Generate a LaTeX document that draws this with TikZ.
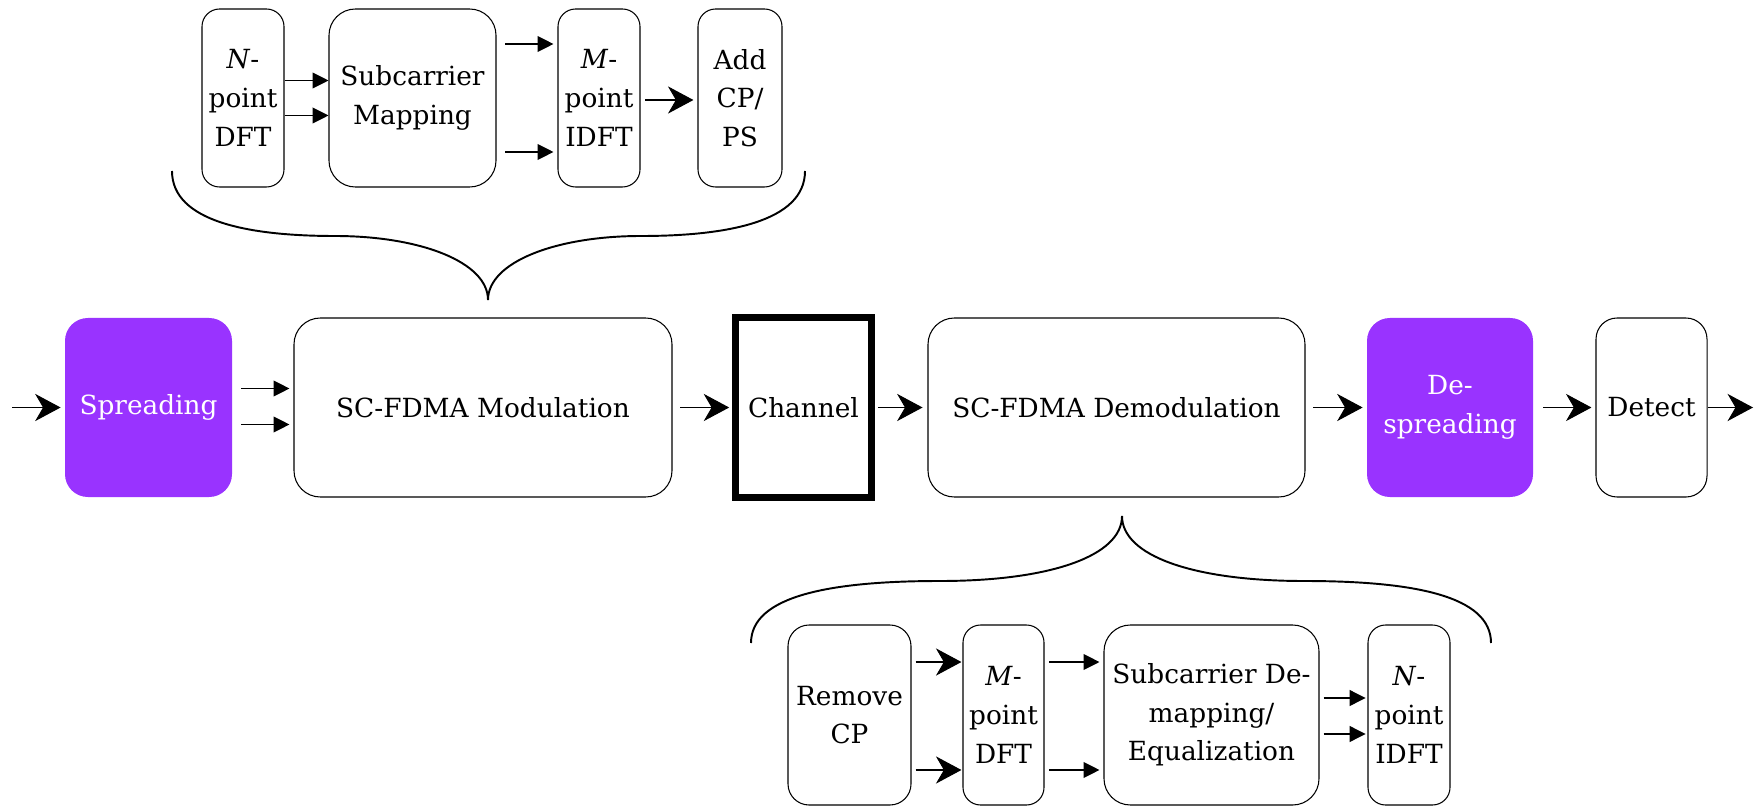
\documentclass[tikz,border=0pt]{standalone}
\usepackage{fontspec}
\setmainfont{DejaVu Serif}
\usetikzlibrary{arrows.meta}
\definecolor{spreadfill}{RGB}{153,51,255}
\begin{document}
\begin{tikzpicture}[x=0.02cm,y=-0.02cm,
  font=\fontsize{15}{22}\selectfont,
  wh/.style 2 args={minimum width=#1*0.02cm, minimum height=#2*0.02cm},
  blk/.style={draw, line width=0.6pt, inner sep=2pt, align=center, rounded corners=#1},
  blk/.default=10pt,
  purp/.style={fill=spreadfill, text=white, draw=none, inner sep=2pt, align=center, rounded corners=13pt},
  chanbox/.style={draw, line width=3.8pt, inner sep=2pt, align=center},
  thin/.style={line width=0.6pt, -{Triangle[length=9pt,width=9pt]}},
  bold/.style={line width=0.6pt, -{Stealth[length=14.5pt,width=15.5pt,inset=4.5pt]}},
  brace/.style={line width=1.1pt}]
\useasboundingbox (0,0) rectangle (1760,807);

% main chain
\node[purp, wh={167}{179}] (spread) at (148.5,407.5) {Spreading};
\node[blk=15pt, wh={378}{179}] (mod) at (483,407.5) {SC-FDMA Modulation};
\node[chanbox, wh={136}{180}] (chan) at (803.5,407.5) {Channel};
\node[blk=15pt, wh={377}{179}] (demod) at (1116.5,407.5) {SC-FDMA Demodulation};
\node[purp, wh={166}{179}] (despread) at (1450,407.5) {De-\\spreading};
\node[blk=12pt, wh={111}{179}] (detect) at (1651.5,407.5) {Detect};
\coordinate (src) at (12,407.5);
\coordinate (sink) at (1753,407.5);

% transmitter details
\node[blk, wh={82}{178}] (ndft) at (243,98) {\textit{N}-\\point\\DFT};
\node[blk=15pt, wh={167}{178}] (map) at (412.5,98) {Subcarrier\\Mapping};
\node[blk, wh={82}{178}] (midft) at (599,98) {\textit{M}-\\point\\IDFT};
\node[blk, wh={84}{178}] (addcp) at (740,98) {Add\\CP/\\PS};

% receiver details
\node[blk=12pt, wh={123}{180}] (rmcp) at (849.5,715) {Remove\\CP};
\node[blk, wh={81}{180}] (mdft) at (1003.5,715) {\textit{M}-\\point\\DFT};
\node[blk=15pt, wh={215}{180}] (demap) at (1211.5,715) {Subcarrier De-\\mapping/\\Equalization};
\node[blk, wh={82}{180}] (nidft) at (1409,715) {\textit{N}-\\point\\IDFT};

% main chain connectors
\draw[bold, shorten >=2.3pt] (src) -- (spread.west);
\draw[thin, shorten <=5.1pt, shorten >=2.3pt] ([yshift=0.38cm]spread.east) -- ([yshift=0.38cm]mod.west);
\draw[thin, shorten <=5.1pt, shorten >=2.3pt] ([yshift=-0.34cm]spread.east) -- ([yshift=-0.34cm]mod.west);
\draw[bold, shorten <=4.5pt, shorten >=1.7pt] (mod.east) -- (chan.west);
\draw[bold, shorten <=1.7pt, shorten >=2.8pt] (chan.east) -- (demod.west);
\draw[bold, shorten <=4.5pt, shorten >=2.3pt] (demod.east) -- (despread.west);
\draw[bold, shorten <=5.7pt, shorten >=2.3pt] (despread.east) -- (detect.west);
\draw[bold] (detect.east) -- (sink);

% transmitter connectors
\draw[thin] ([yshift=0.35cm]ndft.east) -- ([yshift=0.35cm]map.west);
\draw[thin] ([yshift=-0.35cm]ndft.east) -- ([yshift=-0.35cm]map.west);
\draw[thin, shorten <=5.1pt, shorten >=2.3pt] ([yshift=1.08cm]map.east) -- ([yshift=1.08cm]midft.west);
\draw[thin, shorten <=5.1pt, shorten >=2.3pt] ([yshift=-1.08cm]map.east) -- ([yshift=-1.08cm]midft.west);
\draw[bold, shorten <=2.8pt, shorten >=2.3pt] ([yshift=-0.04cm]midft.east) -- ([yshift=-0.04cm]addcp.west);

% receiver connectors
\draw[bold, shorten <=2.3pt, shorten >=0.6pt] ([yshift=1.06cm]rmcp.east) -- ([yshift=1.06cm]mdft.west);
\draw[bold, shorten <=2.3pt, shorten >=0.6pt] ([yshift=-1.1cm]rmcp.east) -- ([yshift=-1.1cm]mdft.west);
\draw[thin, shorten <=2.8pt, shorten >=2.3pt] ([yshift=1.06cm]mdft.east) -- ([yshift=1.06cm]demap.west);
\draw[thin, shorten <=2.8pt, shorten >=2.3pt] ([yshift=-1.1cm]mdft.east) -- ([yshift=-1.1cm]demap.west);
\draw[thin, shorten <=2.3pt, shorten >=1.1pt] ([yshift=0.34cm]demap.east) -- ([yshift=0.34cm]nidft.west);
\draw[thin, shorten <=2.3pt, shorten >=1.1pt] ([yshift=-0.38cm]demap.east) -- ([yshift=-0.38cm]nidft.west);

% braces
\draw[brace] (172,171) .. controls (172,222) and (250,236) .. (335,236)
  .. controls (420,236) and (488,262) .. (488,300)
  .. controls (488,262) and (556,236) .. (641,236)
  .. controls (726,236) and (805,222) .. (805,171);
\draw[brace] (751,643) .. controls (751,596) and (830,581) .. (940,581)
  .. controls (1050,581) and (1122,556) .. (1122,516)
  .. controls (1122,556) and (1194,581) .. (1304,581)
  .. controls (1414,581) and (1491,596) .. (1491,643);
\end{tikzpicture}
\end{document}
